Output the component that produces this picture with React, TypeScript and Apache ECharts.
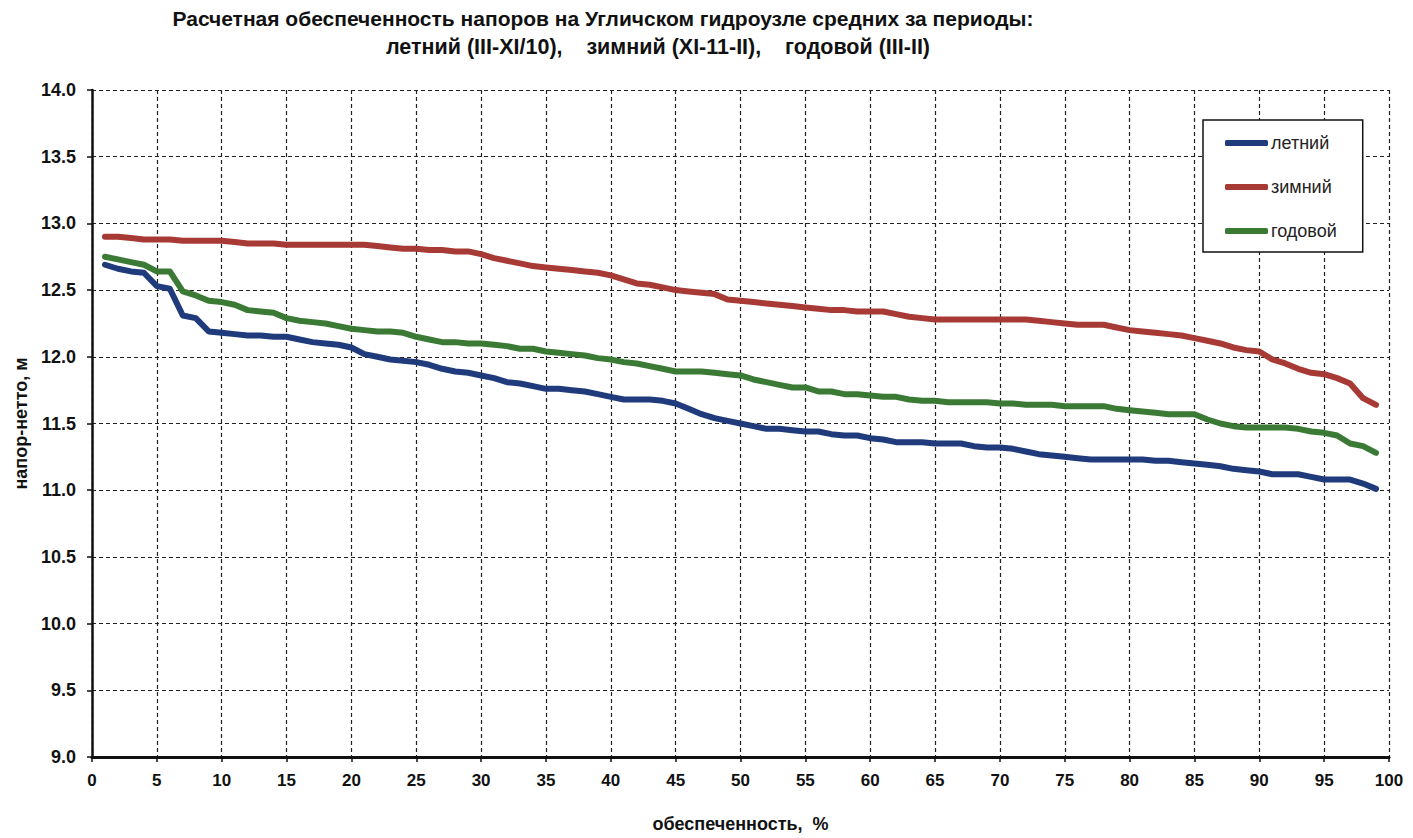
import React, { useEffect, useRef } from "react";
import * as echarts from "echarts";

const titleLine1 = "Расчетная обеспеченность напоров на Угличском гидроузле средних за периоды:";
const titleLine2 = "летний (III-XI/10),    зимний (XI-11-II),    годовой (III-II)";
const xAxisName = "обеспеченность,  %";
const yAxisName = "напор-нетто, м";
const seriesNames = ["летний", "зимний", "годовой"];

// обеспеченность, % (1..99)
const probability: number[] = Array.from({ length: 99 }, (_, i) => i + 1);

const summer: number[] = [
  12.69, 12.66, 12.64, 12.63, 12.53, 12.51, 12.31, 12.29, 12.19, 12.18,
  12.17, 12.16, 12.16, 12.15, 12.15, 12.13, 12.11, 12.10, 12.09, 12.07,
  12.02, 12.00, 11.98, 11.97, 11.96, 11.94, 11.91, 11.89, 11.88, 11.86,
  11.84, 11.81, 11.80, 11.78, 11.76, 11.76, 11.75, 11.74, 11.72, 11.70,
  11.68, 11.68, 11.68, 11.67, 11.65, 11.61, 11.57, 11.54, 11.52, 11.50,
  11.48, 11.46, 11.46, 11.45, 11.44, 11.44, 11.42, 11.41, 11.41, 11.39,
  11.38, 11.36, 11.36, 11.36, 11.35, 11.35, 11.35, 11.33, 11.32, 11.32,
  11.31, 11.29, 11.27, 11.26, 11.25, 11.24, 11.23, 11.23, 11.23, 11.23,
  11.23, 11.22, 11.22, 11.21, 11.20, 11.19, 11.18, 11.16, 11.15, 11.14,
  11.12, 11.12, 11.12, 11.10, 11.08, 11.08, 11.08, 11.05, 11.01,
];

const winter: number[] = [
  12.90, 12.90, 12.89, 12.88, 12.88, 12.88, 12.87, 12.87, 12.87, 12.87,
  12.86, 12.85, 12.85, 12.85, 12.84, 12.84, 12.84, 12.84, 12.84, 12.84,
  12.84, 12.83, 12.82, 12.81, 12.81, 12.80, 12.80, 12.79, 12.79, 12.77,
  12.74, 12.72, 12.70, 12.68, 12.67, 12.66, 12.65, 12.64, 12.63, 12.61,
  12.58, 12.55, 12.54, 12.52, 12.50, 12.49, 12.48, 12.47, 12.43, 12.42,
  12.41, 12.40, 12.39, 12.38, 12.37, 12.36, 12.35, 12.35, 12.34, 12.34,
  12.34, 12.32, 12.30, 12.29, 12.28, 12.28, 12.28, 12.28, 12.28, 12.28,
  12.28, 12.28, 12.27, 12.26, 12.25, 12.24, 12.24, 12.24, 12.22, 12.20,
  12.19, 12.18, 12.17, 12.16, 12.14, 12.12, 12.10, 12.07, 12.05, 12.04,
  11.98, 11.95, 11.91, 11.88, 11.87, 11.84, 11.80, 11.69, 11.64,
];

const annual: number[] = [
  12.75, 12.73, 12.71, 12.69, 12.64, 12.64, 12.49, 12.46, 12.42, 12.41,
  12.39, 12.35, 12.34, 12.33, 12.29, 12.27, 12.26, 12.25, 12.23, 12.21,
  12.20, 12.19, 12.19, 12.18, 12.15, 12.13, 12.11, 12.11, 12.10, 12.10,
  12.09, 12.08, 12.06, 12.06, 12.04, 12.03, 12.02, 12.01, 11.99, 11.98,
  11.96, 11.95, 11.93, 11.91, 11.89, 11.89, 11.89, 11.88, 11.87, 11.86,
  11.83, 11.81, 11.79, 11.77, 11.77, 11.74, 11.74, 11.72, 11.72, 11.71,
  11.70, 11.70, 11.68, 11.67, 11.67, 11.66, 11.66, 11.66, 11.66, 11.65,
  11.65, 11.64, 11.64, 11.64, 11.63, 11.63, 11.63, 11.63, 11.61, 11.60,
  11.59, 11.58, 11.57, 11.57, 11.57, 11.53, 11.50, 11.48, 11.47, 11.47,
  11.47, 11.47, 11.46, 11.44, 11.43, 11.41, 11.35, 11.33, 11.28,
];

const colors = ["#1f3b7c", "#a83a36", "#3b7a35"];
const FONT = "'Liberation Sans', Arial, sans-serif";

export default function App() {
  const ref = useRef<HTMLDivElement>(null);
  useEffect(() => {
    if (!ref.current) return;
    const chart = echarts.init(ref.current, null, { renderer: "svg" });
    const mk = (name: string, vals: number[], color: string) => ({
      name,
      type: "line",
      data: probability.map((p, i) => [p, vals[i]]),
      showSymbol: false,
      symbol: "none",
      lineStyle: { color, width: 6, cap: "round", join: "round" },
      itemStyle: { color },
      z: 3,
    });
    chart.setOption({
      animation: false,
      backgroundColor: "#ffffff",
      textStyle: { fontFamily: FONT },
      graphic: [
        {
          type: "text",
          x: 603,
          y: 18,
          style: {
            text: titleLine1,
            font: `bold 21px ${FONT}`,
            fill: "#111",
            textAlign: "center",
            textVerticalAlign: "middle",
          },
        },
        {
          type: "text",
          x: 658,
          y: 47,
          style: {
            text: titleLine2,
            font: `bold 21.5px ${FONT}`,
            fill: "#111",
            textAlign: "center",
            textVerticalAlign: "middle",
          },
        },
      ],
      grid: { left: 92, right: 24, top: 90, bottom: 69, containLabel: false },
      legend: {
        orient: "vertical",
        left: 1203,
        top: 120,
        data: seriesNames,
        icon: "roundRect",
        itemWidth: 43,
        itemHeight: 6,
        itemGap: 26,
        padding: [14, 26, 12, 22],
        borderColor: "#111",
        borderWidth: 1.5,
        backgroundColor: "#fff",
        textStyle: { fontSize: 18, color: "#222", fontFamily: FONT, padding: [0, 0, 0, -2] },
      },
      xAxis: {
        type: "value",
        min: 0,
        max: 100,
        interval: 5,
        name: xAxisName,
        nameLocation: "middle",
        nameGap: 58,
        nameTextStyle: { fontSize: 18, fontWeight: "bold", color: "#111", fontFamily: FONT },
        axisLine: { show: true, onZero: false, lineStyle: { color: "#111", width: 3 } },
        axisTick: { show: true, length: 5, lineStyle: { color: "#111", width: 1.5 } },
        axisLabel: { fontSize: 17, fontWeight: "bold", color: "#111", margin: 15, fontFamily: FONT },
        splitLine: { show: true, lineStyle: { color: "#222", width: 1.2, type: [4, 3] } },
      },
      yAxis: {
        type: "value",
        min: 9,
        max: 14,
        interval: 0.5,
        name: yAxisName,
        nameLocation: "middle",
        nameGap: 62,
        nameRotate: 90,
        nameTextStyle: { fontSize: 18, fontWeight: "bold", color: "#111", fontFamily: FONT },
        axisLine: { show: true, onZero: false, lineStyle: { color: "#111", width: 2.5 } },
        axisTick: { show: true, length: 5, lineStyle: { color: "#111", width: 1.5 } },
        axisLabel: {
          fontSize: 18,
          fontWeight: "bold",
          color: "#111",
          margin: 16,
          fontFamily: FONT,
          formatter: (v: number) => v.toFixed(1),
        },
        splitLine: { show: true, lineStyle: { color: "#222", width: 1.2, type: [4, 3] } },
      },
      series: [
        mk(seriesNames[0], summer, colors[0]),
        mk(seriesNames[1], winter, colors[1]),
        mk(seriesNames[2], annual, colors[2]),
      ],
    });
    return () => chart.dispose();
  }, []);
  return (
    <div
      ref={ref}
      style={{ position: "absolute", left: 0, top: 0, width: 1413, height: 838, background: "#fff" }}
    />
  );
}
